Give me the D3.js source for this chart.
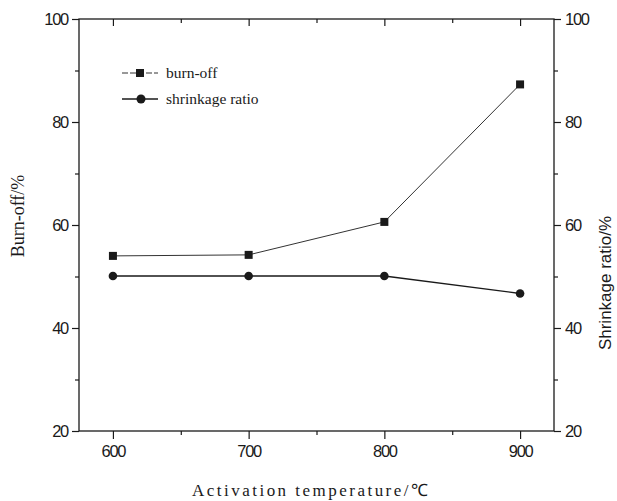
<!DOCTYPE html>
<html>
<head>
<meta charset="utf-8">
<script src="https://cdn.jsdelivr.net/npm/d3@7"></script>
<style>
  html, body { margin: 0; padding: 0; background: #fff; }
  svg { display: block; }
</style>
</head>
<body>
<svg id="chart" width="617" height="501"></svg>
<script>
const temperatures = [600, 700, 800, 900];
const burnOff = [54.0, 54.2, 60.6, 87.3];
const shrinkage = [50.1, 50.1, 50.1, 46.7];
const xTicks = [600, 700, 800, 900];
const xMinor = [650, 750, 850];
const yTicks = [20, 40, 60, 80, 100];
const yMinor = [30, 50, 70, 90];

const svg = d3.select("#chart");
const L = 79, R = 554, T = 19, B = 431;

const x = d3.scaleLinear().domain([575, 925]).range([L, R]);
const yL = d3.scaleLinear().domain([20, 100]).range([B, T]);
const yR = d3.scaleLinear().domain([20, 100]).range([B, T]);

const ink = "#1a1a1a";
const tickFont = "Liberation Sans, Arial, sans-serif";
const serif = "Liberation Serif, Times New Roman, serif";

// frame
svg.append("rect").attr("x", L).attr("y", T).attr("width", R - L).attr("height", B - T)
  .attr("fill", "none").attr("stroke", ink).attr("stroke-width", 1.3);

// bottom axis
const gB = svg.append("g").attr("transform", `translate(0,${B})`);
gB.call(d3.axisBottom(x).tickValues(xTicks).tickSize(8).tickPadding(6).tickFormat(d3.format("d")));
gB.append("g").call(d3.axisBottom(x).tickValues(xMinor).tickSize(4).tickFormat(""));
// top axis (ticks inward)
const gT = svg.append("g").attr("transform", `translate(0,${T})`);
gT.call(d3.axisBottom(x).tickValues(xTicks).tickSize(7).tickFormat(""));
gT.append("g").call(d3.axisBottom(x).tickValues(xMinor).tickSize(4).tickFormat(""));

// left axis
const gL = svg.append("g").attr("transform", `translate(${L},0)`);
gL.call(d3.axisLeft(yL).tickValues(yTicks).tickSize(7).tickPadding(4).tickFormat(d3.format("d")));
gL.append("g").call(d3.axisLeft(yL).tickValues(yMinor).tickSize(4).tickFormat(""));
// right axis
const gR = svg.append("g").attr("transform", `translate(${R},0)`);
gR.call(d3.axisRight(yR).tickValues(yTicks).tickSize(7).tickPadding(4).tickFormat(d3.format("d")));
gR.append("g").call(d3.axisRight(yR).tickValues(yMinor).tickSize(4).tickFormat(""));

svg.selectAll(".domain").remove();
svg.selectAll(".tick line").attr("stroke", ink).attr("stroke-width", 1.2);
svg.selectAll(".tick text").attr("fill", ink)
  .style("font-family", tickFont).style("font-size", "16.5px").style("letter-spacing", "-1.3px");

// lines
const lineB = d3.line().x((d, i) => x(temperatures[i])).y(d => yL(d));
const lineS = d3.line().x((d, i) => x(temperatures[i])).y(d => yR(d));

svg.append("path").datum(burnOff).attr("d", lineB)
  .attr("fill", "none").attr("stroke", "#333").attr("stroke-width", 1);
svg.append("path").datum(shrinkage).attr("d", lineS)
  .attr("fill", "none").attr("stroke", ink).attr("stroke-width", 1.3);

svg.selectAll(".sq").data(burnOff).enter().append("rect")
  .attr("x", (d, i) => x(temperatures[i]) - 4).attr("y", d => yL(d) - 4)
  .attr("width", 8).attr("height", 8).attr("fill", ink);
svg.selectAll(".ci").data(shrinkage).enter().append("circle")
  .attr("cx", (d, i) => x(temperatures[i])).attr("cy", d => yR(d))
  .attr("r", 4.3).attr("fill", ink);

// legend
const lg = svg.append("g");
lg.append("line").attr("x1", 122).attr("x2", 158).attr("y1", 73).attr("y2", 73)
  .attr("stroke", "#333").attr("stroke-width", 1).attr("stroke-dasharray", "6,2");
lg.append("rect").attr("x", 136).attr("y", 69).attr("width", 8).attr("height", 8).attr("fill", ink);
lg.append("text").attr("x", 166).attr("y", 78).text("burn-off")
  .style("font-family", serif).style("font-size", "15.5px").attr("fill", ink);
lg.append("line").attr("x1", 122).attr("x2", 158).attr("y1", 99).attr("y2", 99)
  .attr("stroke", ink).attr("stroke-width", 1.3);
lg.append("circle").attr("cx", 141).attr("cy", 99).attr("r", 4.5).attr("fill", ink);
lg.append("text").attr("x", 166).attr("y", 104).text("shrinkage ratio")
  .style("font-family", serif).style("font-size", "15.5px").attr("fill", ink);

// axis titles
svg.append("text").attr("transform", "translate(24,216) rotate(-90)")
  .attr("text-anchor", "middle").text("Burn-off/%")
  .style("font-family", serif).style("font-size", "18px").attr("fill", ink);
svg.append("text").attr("transform", "translate(611,283) rotate(-90)")
  .attr("text-anchor", "middle").text("Shrinkage ratio/%")
  .style("font-family", "Liberation Sans, Arial, sans-serif").style("font-size", "17px").attr("fill", ink);
svg.append("text").attr("x", 310).attr("y", 496)
  .attr("text-anchor", "middle").text("Activation temperature/℃")
  .attr("textLength", 236).attr("lengthAdjust", "spacing")
  .style("font-family", serif).style("font-size", "17px").attr("fill", ink);
</script>
</body>
</html>
